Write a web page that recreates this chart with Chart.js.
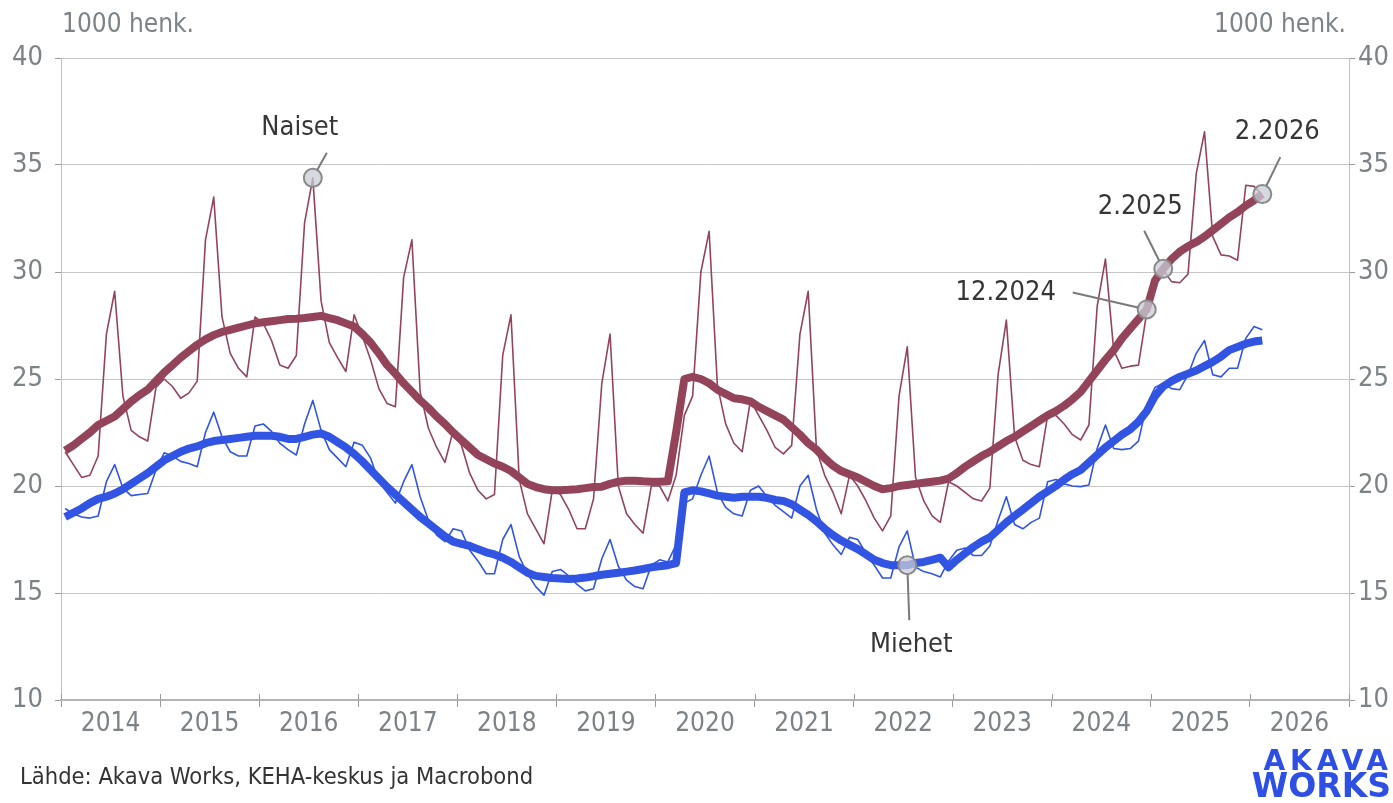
<!DOCTYPE html>
<html lang="fi">
<head>
<meta charset="utf-8">
<title>Työttömät työnhakijat</title>
<script src="https://cdn.jsdelivr.net/npm/chart.js@4.4.1/dist/chart.umd.min.js"></script>
<style>
    html, body { margin: 0; padding: 0; background: #fff; }
    canvas { display: block; }
</style>
</head>
<body>
<canvas id="kaavio" width="1393" height="803"></canvas>
<script>
// Kuukausisarjat alkavat tammikuusta 2014, viimeinen havainto helmikuu 2026
const alkuVuosi = 2014;
const vuosiLkm = 13;

const naisetKk = [
    21.6, 21.0, 20.4, 20.5, 21.4, 27.1, 29.1, 24.2, 22.6, 22.3, 22.1, 24.6,
    25.0, 24.65, 24.1, 24.35, 24.9, 31.5, 33.5, 27.9, 26.2, 25.5, 25.1, 27.9,
    27.6, 26.8, 25.65, 25.5, 26.1, 32.3, 34.4, 28.65, 26.7, 26.0, 25.35, 28.0,
    27.0, 25.9, 24.55, 23.85, 23.7, 29.75, 31.5, 24.4, 22.7, 21.8, 21.1, 22.6,
    21.9, 20.6, 19.8, 19.4, 19.6, 26.1, 28.0, 20.3, 18.7, 18.0, 17.3, 19.8,
    19.6, 18.9, 18.0, 18.0, 19.4, 24.8, 27.1, 20.0, 18.7, 18.2, 17.8, 20.0,
    20.0, 19.3, 20.5, 23.3, 24.2, 30.0, 31.9, 24.7, 22.9, 22.0, 21.6, 24.0,
    23.3, 22.6, 21.8, 21.5, 21.9, 27.1, 29.1, 21.7, 20.5, 19.7, 18.7, 20.5,
    20.0, 19.3, 18.5, 17.9, 18.6, 24.2, 26.5, 20.4, 19.3, 18.6, 18.3, 20.2,
    20.0, 19.7, 19.4, 19.3, 19.9, 25.2, 27.75, 22.3, 21.2, 21.0, 20.9, 23.3,
    23.3, 22.9, 22.4, 22.15, 22.85, 28.4, 30.6, 26.35, 25.5, 25.6, 25.65, 28.1,
    29.8, 30.1, 29.55, 29.5, 29.9, 34.6, 36.55, 31.65, 30.8, 30.75, 30.55, 34.05,
    34.0, 33.6
];

const naisetTrendi = [
    21.65, 21.9, 22.2, 22.5, 22.85, 23.05, 23.25, 23.6, 23.95, 24.25, 24.5, 24.9,
    25.3, 25.65, 26.0, 26.3, 26.6, 26.85, 27.05, 27.2, 27.3, 27.4, 27.5, 27.6,
    27.65, 27.7, 27.75, 27.8, 27.82, 27.85, 27.9, 27.95, 27.85, 27.75, 27.6, 27.45,
    27.1, 26.7, 26.2, 25.65, 25.25, 24.8, 24.4, 24.0, 23.65, 23.25, 22.9, 22.5,
    22.15, 21.8, 21.45, 21.25, 21.05, 20.9, 20.7, 20.4, 20.1, 19.95, 19.85, 19.8,
    19.8, 19.82, 19.85, 19.9, 19.95, 19.97, 20.1, 20.2, 20.25, 20.25, 20.22, 20.2,
    20.2, 20.22, 22.5, 25.0, 25.1, 25.0, 24.8, 24.5, 24.3, 24.1, 24.05, 23.95,
    23.7, 23.5, 23.3, 23.1, 22.75, 22.4, 22.0, 21.7, 21.3, 20.95, 20.7, 20.55,
    20.4, 20.2, 20.0, 19.85, 19.9, 20.0, 20.05, 20.1, 20.15, 20.2, 20.25, 20.35,
    20.6, 20.9, 21.15, 21.4, 21.6, 21.85, 22.1, 22.3, 22.55, 22.8, 23.05, 23.3,
    23.5, 23.75, 24.05, 24.4, 24.9, 25.4, 25.9, 26.35, 26.9, 27.35, 27.8, 28.25,
    29.6, 30.15, 30.6, 30.95, 31.2, 31.4, 31.65, 31.95, 32.25, 32.55, 32.8, 33.1,
    33.35, 33.64
];

const miehetKk = [
    18.95, 18.7, 18.55, 18.5, 18.6, 20.2, 21.0, 19.9, 19.55, 19.6, 19.65, 20.75,
    21.55, 21.4, 21.15, 21.05, 20.9, 22.5, 23.45, 22.3, 21.6, 21.4, 21.4, 22.8,
    22.9, 22.55, 22.0, 21.7, 21.45, 22.9, 24.0, 22.6, 21.7, 21.3, 20.9, 22.05,
    21.9, 21.3, 20.2, 19.7, 19.2, 20.2, 21.0, 19.5, 18.4, 17.7, 17.4, 18.0,
    17.9, 17.0, 16.5, 15.9, 15.9, 17.5, 18.2, 16.7, 15.9, 15.3, 14.9, 16.0,
    16.1, 15.8, 15.4, 15.1, 15.2, 16.6, 17.5, 16.25, 15.6, 15.3, 15.2, 16.3,
    16.55, 16.45, 17.25, 19.2, 19.4, 20.5, 21.4, 19.7, 19.0, 18.7, 18.6, 19.8,
    20.0, 19.5, 19.1, 18.8, 18.5, 20.0, 20.5, 18.9, 17.8, 17.25, 16.8, 17.6,
    17.5, 16.85, 16.3, 15.7, 15.7, 17.15, 17.9, 16.2, 16.0, 15.9, 15.75, 16.5,
    17.0, 17.1, 16.75, 16.75, 17.2, 18.4, 19.5, 18.2, 18.0, 18.3, 18.5, 20.2,
    20.3, 20.1, 20.0, 19.97, 20.05, 21.75, 22.85, 21.75, 21.7, 21.75, 22.1, 23.8,
    24.6, 24.8, 24.55, 24.5, 25.2, 26.2, 26.8, 25.2, 25.1, 25.5, 25.5, 26.9,
    27.45, 27.3
];

const miehetTrendi = [
    18.55, 18.75, 18.95, 19.2, 19.4, 19.5, 19.65, 19.85, 20.1, 20.35, 20.6, 20.9,
    21.2, 21.4, 21.6, 21.75, 21.85, 22.0, 22.1, 22.15, 22.2, 22.25, 22.3, 22.35,
    22.35, 22.35, 22.3, 22.2, 22.2, 22.3, 22.4, 22.45, 22.3, 22.05, 21.8, 21.5,
    21.15, 20.75, 20.35, 19.95, 19.6, 19.25, 18.9, 18.55, 18.25, 17.95, 17.65, 17.4,
    17.3, 17.2, 17.05, 16.9, 16.8, 16.65, 16.45, 16.2, 15.95, 15.8, 15.75, 15.7,
    15.68, 15.65, 15.68, 15.72, 15.78, 15.85, 15.9, 15.95, 16.0, 16.05, 16.12, 16.2,
    16.25, 16.3, 16.4, 19.7, 19.8, 19.75, 19.65, 19.55, 19.5, 19.45, 19.5, 19.5,
    19.5, 19.45, 19.35, 19.3, 19.15, 18.9, 18.65, 18.35, 18.0, 17.7, 17.45, 17.25,
    17.05, 16.8, 16.55, 16.4, 16.3, 16.3, 16.3, 16.4, 16.45, 16.55, 16.65, 16.2,
    16.55, 16.85, 17.15, 17.4, 17.6, 17.95, 18.3, 18.6, 18.9, 19.2, 19.5, 19.75,
    20.0, 20.3, 20.55, 20.75, 21.1, 21.45, 21.8, 22.1, 22.4, 22.65, 23.0, 23.5,
    24.2, 24.65, 24.9, 25.1, 25.25, 25.4, 25.6, 25.8, 26.05, 26.35, 26.5, 26.65,
    26.75, 26.8
];

// Y-akselin rajat (1000 henk.)
const yMin = 10, yMax = 40, yVali = 5;

// Korostetut pisteet: sarja, kuukausi-indeksi ja selite
const korostukset = [
    { sarja: naisetKk,     kk: 30,  teksti: 'Naiset',  tx: -13, ty: -50, lx: 14,   ly: -25 },
    { sarja: miehetTrendi, kk: 102, teksti: 'Miehet',  tx: 4,   ty: 80,  lx: 2,    ly: 55 },
    { sarja: naisetTrendi, kk: 131, teksti: '12.2024', tx: -141, ty: -16, lx: -74, ly: -17 },
    { sarja: naisetTrendi, kk: 133, teksti: '2.2025',  tx: -23, ty: -62, lx: -19,  ly: -38 },
    { sarja: naisetTrendi, kk: 145, teksti: '2.2026',  tx: 15,  ty: -62, lx: 18,   ly: -37 }
];

const NAISET_VARI = '#93445b';
const MIEHET_VARI = '#3154e2';
const FONTTI = "'DejaVu Sans Condensed', 'DejaVu Sans', sans-serif";
const HARMAA = '#7d8287';

// kuukausi-indeksi -> x-koordinaatti (kuukauden keskikohta)
function pisteet(arvot) {
    return arvot.map((v, i) => ({ x: i + 0.5, y: v }));
}

function viivaSarja(arvot, vari, leveys, jarjestys) {
    return {
        data: pisteet(arvot),
        borderColor: vari,
        borderWidth: leveys,
        pointRadius: 0,
        tension: 0,
        fill: false,
        borderJoinStyle: 'round',
        order: jarjestys
    };
}

// Tekstit, nuolet ja lähdetiedot piirretään kaavion päälle
const tekstiPlugin = {
    id: 'tekstit',
    afterDatasetsDraw(chart) {
        const ctx = chart.ctx;
        const xs = chart.scales.x, ys = chart.scales.y;
        ctx.save();
        korostukset.forEach(k => {
            const px = xs.getPixelForValue(k.kk + 0.5);
            const py = ys.getPixelForValue(k.sarja[k.kk]);
            const ex = px + k.lx, ey = py + k.ly;
            const d = Math.hypot(k.lx, k.ly);
            ctx.strokeStyle = '#7a7a7a';
            ctx.lineWidth = 2;
            ctx.beginPath();
            ctx.moveTo(px + k.lx / d * 9, py + k.ly / d * 9);
            ctx.lineTo(ex, ey);
            ctx.stroke();
            ctx.fillStyle = '#363636';
            ctx.font = '27px ' + FONTTI;
            ctx.textAlign = 'center';
            ctx.textBaseline = 'middle';
            ctx.fillText(k.teksti, px + k.tx, py + k.ty);
        });

        // vuosirajojen väliviivat ulottuvat myös akselin yläpuolelle
        const yAla = chart.chartArea.bottom;
        ctx.strokeStyle = '#9a9a9a';
        ctx.lineWidth = 1;
        ctx.beginPath();
        for (let v = 0; v <= vuosiLkm * 12; v += 12) {
            const x = Math.round(xs.getPixelForValue(v)) + 0.5;
            ctx.moveTo(x, yAla - 6);
            ctx.lineTo(x, yAla);
        }
        ctx.stroke();
        ctx.restore();
    },
    afterDraw(chart) {
        const ctx = chart.ctx;
        ctx.save();
        ctx.fillStyle = HARMAA;
        ctx.font = '26px ' + FONTTI;
        ctx.textBaseline = 'alphabetic';
        ctx.textAlign = 'left';
        ctx.fillText('1000 henk.', 62, 32);
        ctx.textAlign = 'right';
        ctx.fillText('1000 henk.', 1346, 32);

        ctx.fillStyle = '#333';
        ctx.font = '23.5px ' + FONTTI;
        ctx.textAlign = 'left';
        ctx.fillText('Lähde: Akava Works, KEHA-keskus ja Macrobond', 20, 784);

        ctx.fillStyle = '#2d4fe3';
        ctx.textAlign = 'right';
        ctx.letterSpacing = '5px';
        ctx.font = 'bold 28px DejaVu Sans, sans-serif';
        ctx.fillText('AKAVA', 1393, 770);
        ctx.letterSpacing = '0px';
        ctx.font = 'bold 33px DejaVu Sans, sans-serif';
        ctx.fillText('WORKS', 1391, 797);
        ctx.restore();
    }
};

const vuosiTikit = [];
for (let v = 0; v <= vuosiLkm * 12; v += 6) vuosiTikit.push(v);

new Chart(document.getElementById('kaavio'), {
    type: 'line',
    data: {
        datasets: [
            {
                type: 'scatter',
                data: korostukset.map(k => ({ x: k.kk + 0.5, y: k.sarja[k.kk] })),
                pointRadius: 9,
                pointBackgroundColor: 'rgba(200, 204, 214, 0.75)',
                pointBorderColor: '#8a8a8a',
                pointBorderWidth: 2,
                showLine: false,
                order: 0
            },
            viivaSarja(naisetTrendi, NAISET_VARI, 8, 1),
            viivaSarja(miehetTrendi, MIEHET_VARI, 8, 1),
            viivaSarja(naisetKk, NAISET_VARI, 1.6, 2),
            viivaSarja(miehetKk, MIEHET_VARI, 1.6, 2)
        ]
    },
    options: {
        responsive: false,
        animation: false,
        devicePixelRatio: 1,
        layout: { padding: { top: 58 } },
        plugins: { legend: { display: false }, tooltip: { enabled: false } },
        scales: {
            x: {
                type: 'linear',
                min: 0,
                max: vuosiLkm * 12,
                afterBuildTicks: axis => { axis.ticks = vuosiTikit.map(v => ({ value: v })); },
                afterFit: axis => { axis.height = 103; },
                border: { color: '#b4b4b4', width: 2 },
                grid: {
                    drawOnChartArea: false,
                    tickLength: 7,
                    tickColor: c => (c.tick && c.tick.value % 12 === 0) ? '#9a9a9a' : 'rgba(0,0,0,0)'
                },
                ticks: {
                    autoSkip: false,
                    maxRotation: 0,
                    padding: 2,
                    color: HARMAA,
                    font: { family: FONTTI, size: 26 },
                    callback: v => (v % 12 === 6) ? String(alkuVuosi + (v - 6) / 12) : ''
                }
            },
            y: {
                position: 'left',
                min: yMin,
                max: yMax,
                afterFit: axis => { axis.width = 61; },
                border: { color: '#c0c0c0' },
                grid: { color: '#c6c6c6', tickColor: '#9a9a9a', tickLength: 6 },
                ticks: {
                    stepSize: yVali,
                    padding: 12,
                    color: HARMAA,
                    font: { family: FONTTI, size: 27 }
                }
            },
            y2: {
                position: 'right',
                min: yMin,
                max: yMax,
                afterFit: axis => { axis.width = 44; },
                border: { color: '#c0c0c0' },
                grid: { drawOnChartArea: false, tickColor: '#9a9a9a', tickLength: 6 },
                ticks: {
                    stepSize: yVali,
                    padding: 3,
                    color: HARMAA,
                    font: { family: FONTTI, size: 27 }
                }
            }
        }
    },
    plugins: [tekstiPlugin]
});
</script>
</body>
</html>
